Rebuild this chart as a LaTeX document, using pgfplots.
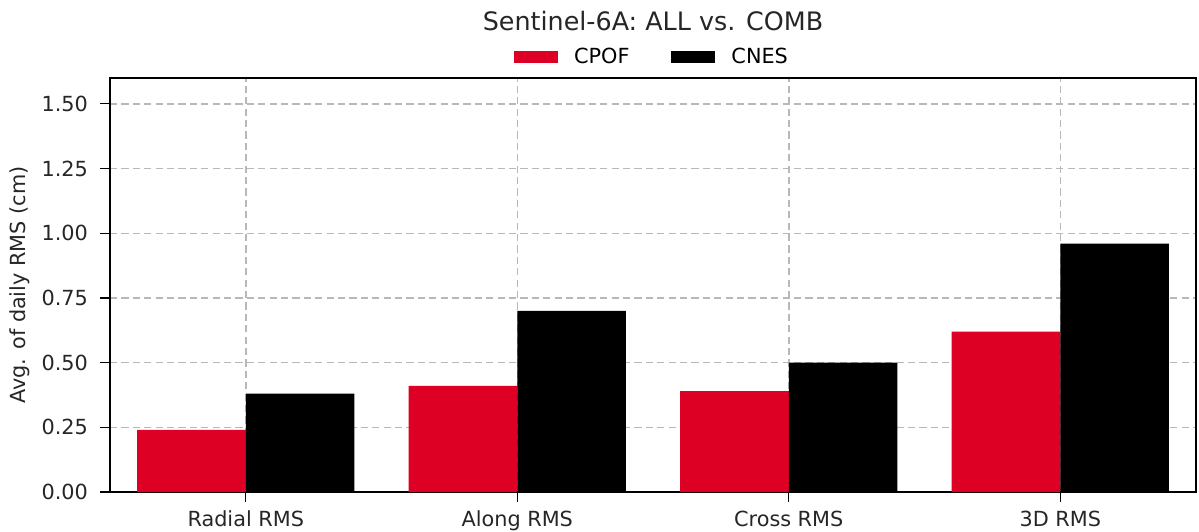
\documentclass[border=0pt]{standalone}
\usepackage{fontspec}
\setmainfont{DejaVu Sans}
\usepackage{pgfplots}
\pgfplotsset{compat=1.18}
\definecolor{cpof}{RGB}{222,0,36}
\definecolor{gridc}{RGB}{184,184,184}
\begin{document}
\begin{tikzpicture}
\useasboundingbox (0,0) rectangle (599.5pt,265.5pt);
\begin{axis}[
  at={(55pt,19.5pt)}, anchor=south west,
  width=543pt, height=207pt, scale only axis,
  xmin=-0.5, xmax=3.5, ymin=0, ymax=1.6,
  ybar, bar width=0.4,
  xtick={0,1,2,3},
  xticklabels={Radial RMS, Along RMS, Cross RMS, 3D RMS},
  ytick={0,0.25,0.5,0.75,1,1.25,1.5},
  yticklabel style={/pgf/number format/fixed, /pgf/number format/fixed zerofill, /pgf/number format/precision=2},
  /pgf/number format/assume math mode=true,
  tick label style={font=\fontsize{10.4}{12}\selectfont, color=black!85},
  xticklabel style={yshift=-0.8pt},
  yticklabel style={xshift=-2.5pt},
  tick pos=left, tick align=outside,
  major tick length=5pt,
  every tick/.style={black, line width=0.6pt},
  axis line style={line width=0.9pt},
  grid=major,
  major grid style={gridc, line width=0.75pt, dash pattern=on 3.6pt off 2.1pt},
  axis on top=false,
  title={Sentinel-6A: ALL vs. COMB},
  title style={at={(0.5,1)}, anchor=base, yshift=17.5pt, font=\fontsize{12.7}{14}\selectfont, color=black!85},
  ylabel={Avg. of daily RMS (cm)},
  ylabel style={at={(axis description cs:-0.0835,0.5)}, anchor=center, font=\fontsize{10.4}{12}\selectfont, color=black!85},
  legend style={at={(0.5,1)}, anchor=center, yshift=10.5pt, draw=none, fill=none,
    font=\fontsize{10.4}{12}\selectfont, legend columns=2,
    /tikz/every even column/.append style={column sep=19pt},
    /tikz/every odd column/.append style={column sep=6pt}},
  legend image code/.code={\fill[#1] (0pt,-3pt) rectangle (22pt,3pt);},
]
\addplot[fill=cpof, draw=none, bar shift=-0.2] coordinates {(0,0.24) (1,0.41) (2,0.39) (3,0.62)};
\addplot[fill=black, draw=none, bar shift=0.2] coordinates {(0,0.38) (1,0.70) (2,0.50) (3,0.96)};
\legend{CPOF, CNES}
\end{axis}
\end{tikzpicture}
\end{document}
